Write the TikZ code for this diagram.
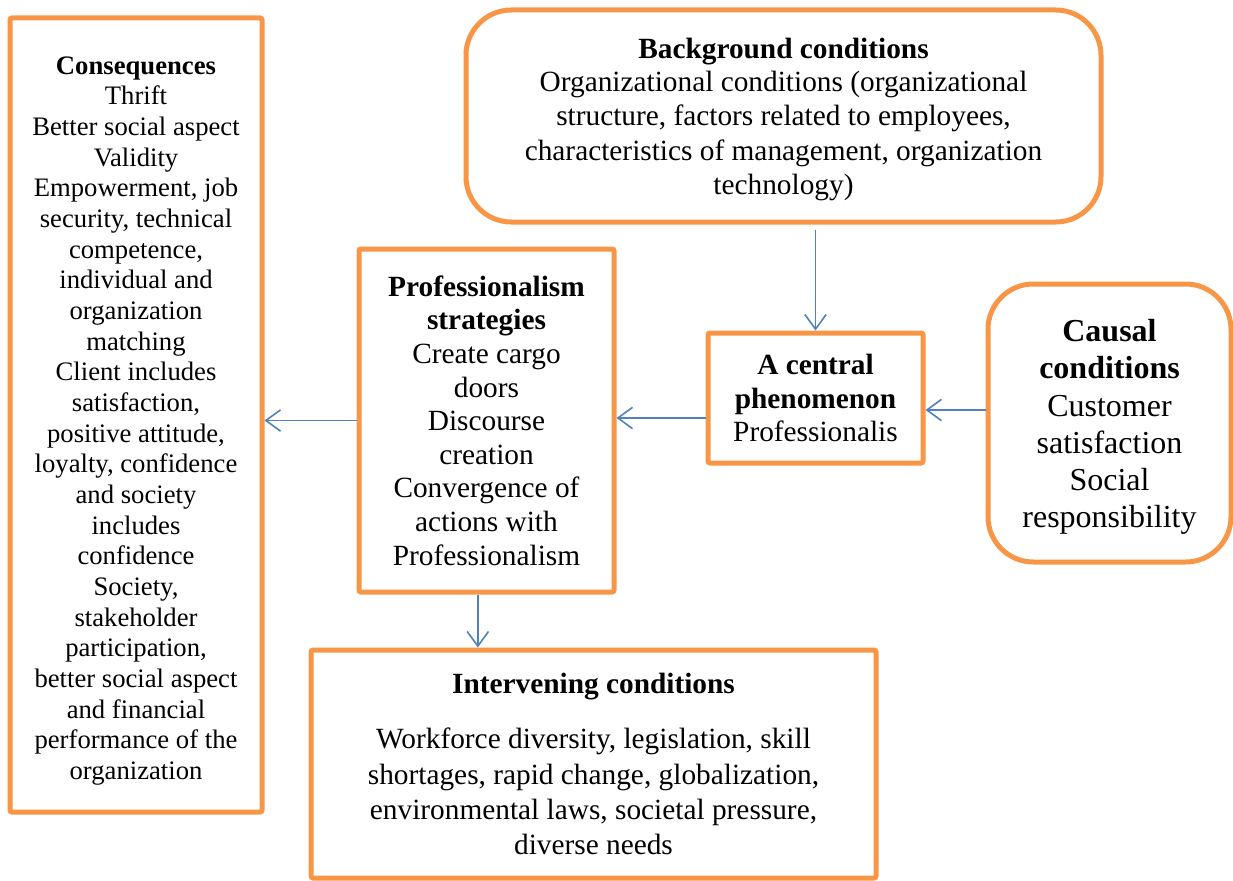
\documentclass[tikz,border=0pt]{standalone}
\usepackage{fontspec}
\setmainfont{Liberation Serif}
\usetikzlibrary{arrows.meta}
\definecolor{boxorange}{HTML}{F79646}
\definecolor{arrowblue}{HTML}{4F81BD}
\tikzset{
 obox/.style={draw=boxorange,line width=3.75pt,inner sep=0pt,align=center,rounded corners=1.5pt},
 rbox/.style={obox,rounded corners=34pt},
 flow/.style={-{Straight Barb[length=11pt,width=16pt]},arrowblue,line width=1.2pt}
}
\begin{document}
\begin{tikzpicture}[x=0.75pt,y=-0.75pt]
 \useasboundingbox (0,0) rectangle (1233,881);
 \node[obox,minimum width=189pt,minimum height=595.5pt,font=\fontsize{20}{23}\selectfont] (cons) at (136,415)
  {\bfseries\rule{0pt}{22pt}Consequences\\ Thrift\\ Better social aspect\\ Validity\\ Empowerment, job\\ security, technical\\ competence,\\ individual and\\ organization\\ matching\\ Client includes\\ satisfaction,\\ positive attitude,\\ loyalty, confidence\\ and society\\ includes\\ confidence\\ Society,\\ stakeholder\\ participation,\\ better social aspect\\ and financial\\ performance of the\\ organization};
 \node[rbox,minimum width=476.25pt,minimum height=159pt,font=\fontsize{22}{25.9}\selectfont] (bg) at (783.5,116)
  {\bfseries\rule{0pt}{21pt}Background conditions\\[-1.5pt] Organizational conditions (organizational\\ structure, factors related to employees,\\ characteristics of management, organization\\ technology)};
 \node[obox,minimum width=191.25pt,minimum height=257.25pt,font=\fontsize{22}{25.2}\selectfont] (strat) at (486.5,420.5)
  {\bfseries Professionalism\\ \bfseries strategies\\ Create cargo\\ doors\\ Discourse\\ creation\\ Convergence of\\ actions with\\ Professionalism};
 \node[obox,minimum width=161.25pt,minimum height=97.5pt,font=\fontsize{22}{24.8}\selectfont] (cent) at (815.5,398)
  {\bfseries A central\\ \bfseries phenomenon\\ Professionalis};
 \node[rbox,minimum width=182.25pt,minimum height=208.5pt,font=\fontsize{24}{27.8}\selectfont] (causal) at (1109.5,423)
  {\bfseries\rule{0pt}{22.5pt}Causal\\ \bfseries conditions\\ Customer\\ satisfaction\\ Social\\ responsibility};
 \node[obox,minimum width=423.75pt,minimum height=171pt,font=\fontsize{22}{26.6}\selectfont] (interv) at (593.5,764)
  {\bfseries Intervening conditions\\[15pt] Workforce diversity, legislation, skill\\ shortages, rapid change, globalization,\\ environmental laws, societal pressure,\\ diverse needs};
 \draw[flow,shorten <=4pt] (bg.south -| cent.north) -- (cent.north);
 \coordinate (c1) at ([yshift=9.75pt]causal.west);
 \draw[flow] (c1) -- (c1 -| cent.east);
 \coordinate (c2) at ([yshift=-15pt]cent.west);
 \draw[flow] (c2) -- (c2 -| strat.east);
 \draw[flow] (strat.west) -- (strat.west -| cons.east);
 \coordinate (c3) at ([xshift=-6.5pt]strat.south);
 \draw[flow] (c3) -- (c3 |- interv.north);
\end{tikzpicture}
\end{document}
